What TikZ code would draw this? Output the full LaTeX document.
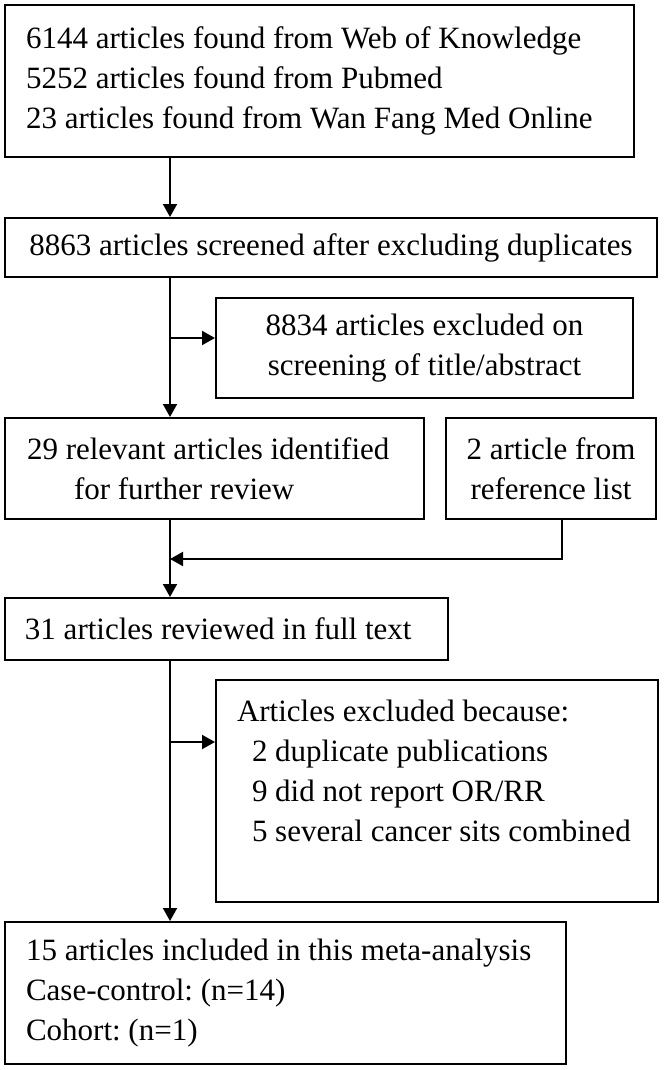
\documentclass[tikz,border=0pt]{standalone}
\usepackage{fontspec}
\setmainfont{Liberation Serif}
\usetikzlibrary{positioning, arrows.meta}
\frenchspacing

\begin{document}
\begin{tikzpicture}[
  x=1pt, y=-1pt,
  >={Triangle[length=6.5pt,width=7pt]},
  every node/.style={font=\fontsize{15.5pt}{20pt}\selectfont},
  box/.style={draw, line width=1pt, inner sep=0pt, align=center},
  leftbox/.style={box, align=flush left, inner xsep=10.5pt},
  flow/.style={->, line width=1pt}
]
\useasboundingbox (0,0) rectangle (332,535);
\coordinate (spine) at (85,0);

% Main column
\node[leftbox, text width=293.5pt, minimum height=76pt] (src) at (159.75,40.5)
  {6144 articles found from Web of Knowledge\\5252 articles found from Pubmed\\23 articles found from Wan Fang Med Online};
\node[box, minimum width=326pt, minimum height=29.5pt] (screened) at (165.5,123.75)
  {8863 articles screened after excluding duplicates};
\node[leftbox, inner xsep=11pt, text width=187.5pt, minimum height=50.5pt] (relevant) at (107.25,234.25)
  {29 relevant articles identified\\\hspace*{23.5pt}for further review};
\node[leftbox, inner xsep=10pt, text width=201.5pt, minimum height=31pt] (fulltext) at (113.25,314.5)
  {31 articles reviewed in full text};
\node[leftbox, text width=259.5pt, minimum height=71pt] (included) at (142.75,496.5)
  {15 articles included in this meta-analysis\\Case-control: (n=14)\\Cohort: (n=1)};

% Side boxes
\node[box, minimum width=208.5pt, minimum height=50pt] (exclA) at (212.25,174)
  {8834 articles excluded on\\screening of title/abstract};
\node[box, minimum width=105pt, minimum height=50.5pt] (reflist) at (275.5,234.25)
  {2 article from\\reference list};
\node[leftbox, text width=200pt, minimum height=111pt] (exclB) at (218.5,395.5)
  {Articles excluded because:\\\hspace*{7.5pt}2 duplicate publications\\\hspace*{7.5pt}9 did not report OR/RR\\\hspace*{7.5pt}5 several cancer sits combined\\\mbox{}};

% Connectors
\coordinate (splitA) at (85,169);
\coordinate (join) at (85,279.5);
\coordinate (splitB) at (85,371);
\draw[flow] (src.south -| spine) -- (screened.north -| spine);
\draw[flow] (screened.south -| spine) -- (relevant.north -| spine);
\draw[flow] (splitA) -- (splitA -| exclA.west);
\draw[flow] ([xshift=5.5pt]reflist.south) |- (join);
\draw[flow] (relevant.south -| spine) -- (fulltext.north -| spine);
\draw[flow] (fulltext.south -| spine) -- (included.north -| spine);
\draw[flow] (splitB) -- (splitB -| exclB.west);

\end{tikzpicture}
\end{document}
